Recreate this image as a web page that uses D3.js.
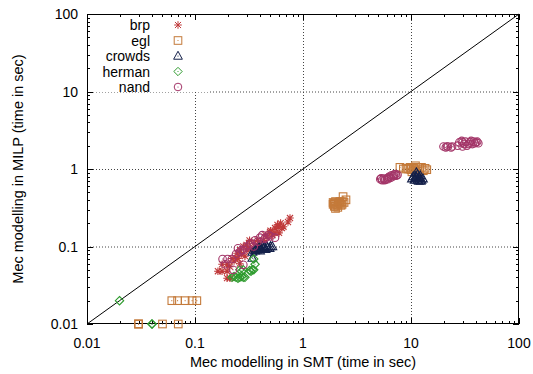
<!DOCTYPE html>
<html>
<head>
<meta charset="utf-8">
<script src="https://cdn.jsdelivr.net/npm/d3@7"></script>
<style>
  body { margin: 0; background: #fff; }
  text { font-family: "Liberation Sans", Arial, sans-serif; font-size: 14px; fill: #000; }
</style>
</head>
<body>
<svg id="chart" width="533" height="374"></svg>
<script>
let width = 533, height = 374;
let margin = { left: 87, right: 14, top: 14, bottom: 50 };

let seriesNames = ["brp", "egl", "crowds", "herman", "nand"];
let seriesColors = ["#c0393a", "#c47a3a", "#14204a", "#2e9b2e", "#a33568"];
let seriesShapes = ["star", "square", "triangle", "diamond", "circle"];

let tickValues = [0.01, 0.1, 1, 10, 100];
let tickLabels = ["0.01", "0.1", "1", "10", "100"];
let gridValues = [0.1, 1, 10];

// points (SMT time, MILP time)
let brpX = [0.198, 0.211, 0.163, 0.178, 0.198, 0.178, 0.198, 0.22, 0.245, 0.261, 0.245, 0.303, 0.337, 0.28, 0.3, 0.32, 0.4, 0.43, 0.464, 0.495, 0.52, 0.551, 0.587, 0.639, 0.6, 0.55, 0.726, 0.758, 0.26, 0.29,
  0.23, 0.27, 0.31, 0.35, 0.38, 0.45, 0.5, 0.58, 0.62, 0.66, 0.21, 0.25];
let brpY = [0.039, 0.039, 0.048, 0.048, 0.048, 0.059, 0.059, 0.07, 0.082, 0.09, 0.071, 0.09, 0.09, 0.1, 0.105, 0.12, 0.105, 0.12, 0.133, 0.154, 0.14, 0.173, 0.179, 0.173, 0.15, 0.15, 0.207, 0.233, 0.06, 0.075,
  0.065, 0.08, 0.095, 0.11, 0.12, 0.14, 0.16, 0.19, 0.2, 0.18, 0.055, 0.07];

let eglX = [0.03, 0.03, 0.03, 0.05, 0.07, 0.061, 0.069, 0.081, 0.094, 0.104,
  1.9, 2.0, 2.1, 2.2, 2.3, 2.0, 2.2, 2.4, 2.1, 2.35, 1.95, 2.5, 1.95, 2.05, 2.15, 2.25, 2.3, 2.0, 1.9,
  7.9, 8.5, 9.5, 10, 10.5, 11, 11.5, 12, 13, 14, 10.2, 11.5, 9, 10.8, 12.5, 13.5, 9.8];
let eglY = [0.01, 0.01, 0.01, 0.01, 0.01, 0.02, 0.02, 0.02, 0.02, 0.02,
  0.35, 0.33, 0.34, 0.36, 0.35, 0.38, 0.38, 0.37, 0.32, 0.44, 0.36, 0.4, 0.33, 0.35, 0.37, 0.34, 0.38, 0.31, 0.37,
  1.05, 1.0, 1.0, 0.98, 1.02, 1.1, 1.05, 1.0, 0.95, 0.98, 0.92, 0.93, 1.02, 0.97, 1.05, 1.02, 1.05];

let crowdsX = [0.34, 0.36, 0.38, 0.4, 0.42, 0.44, 0.46, 0.5, 0.52, 0.4, 0.45, 0.34, 0.37, 0.39, 0.41, 0.43, 0.47, 0.49, 0.36,
  10.2, 10.8, 11, 11.5, 12, 12.5, 11.8, 11.2, 12.9, 10.5, 11.3, 11.7, 12.2, 11.5, 12.3, 10.9];
let crowdsY = [0.085, 0.088, 0.09, 0.095, 0.1, 0.098, 0.1, 0.1, 0.1, 0.088, 0.092, 0.071, 0.093, 0.097, 0.092, 0.095, 0.097, 0.095, 0.09,
  0.75, 0.72, 0.8, 0.85, 0.78, 0.72, 0.7, 0.9, 0.75, 0.8, 0.78, 0.75, 0.82, 0.72, 0.7, 0.76];

let hermanX = [0.02, 0.04, 0.04, 0.22, 0.24, 0.26, 0.28, 0.27, 0.33, 0.35, 0.36, 0.35, 0.23, 0.25, 0.27, 0.29, 0.26, 0.28, 0.34, 0.32];
let hermanY = [0.02, 0.01, 0.01, 0.04, 0.04, 0.04, 0.04, 0.048, 0.048, 0.05, 0.059, 0.069, 0.041, 0.039, 0.041, 0.04, 0.05, 0.05, 0.05, 0.049];

let nandX = [0.18, 0.2, 0.22, 0.19, 0.225, 0.28, 0.24, 0.26, 0.28, 0.25, 0.3, 0.33, 0.36, 0.4, 0.45, 0.5, 0.55, 0.42, 0.38, 0.35, 0.27, 0.32, 0.44, 0.48,
  5.2, 5.4, 5.6, 5.8, 6.0, 6.3, 6.6, 7.0, 7.3, 7.5, 6.8, 6.2, 5.3, 5.7, 6.1, 6.5, 6.9, 7.2,
  20, 21, 22, 23.5, 27, 28, 29.5, 31, 32, 33, 35, 37, 38, 40, 42, 30, 21.5, 24, 30, 34, 36, 39, 41];
let nandY = [0.069, 0.069, 0.069, 0.059, 0.05, 0.058, 0.08, 0.085, 0.09, 0.095, 0.1, 0.11, 0.12, 0.13, 0.13, 0.135, 0.13, 0.14, 0.115, 0.1, 0.09, 0.105, 0.125, 0.14,
  0.74, 0.72, 0.75, 0.73, 0.76, 0.8, 0.83, 0.85, 0.82, 0.84, 0.8, 0.78, 0.76, 0.72, 0.74, 0.77, 0.82, 0.86,
  1.95, 1.9, 1.95, 1.9, 2.0, 2.2, 2.3, 2.1, 2.25, 2.0, 2.2, 2.1, 2.25, 2.2, 2.15, 1.95, 1.95, 1.95, 2.2, 2.1, 2.3, 2.15, 2.25];

let seriesX = [brpX, eglX, crowdsX, hermanX, nandX];
let seriesY = [brpY, eglY, crowdsY, hermanY, nandY];

let svg = d3.select("#chart");
svg.append("rect").attr("width", width).attr("height", height).attr("fill", "#fff");

let x = d3.scaleLog().domain([0.01, 100]).range([margin.left, width - margin.right]);
let y = d3.scaleLog().domain([0.01, 100]).range([height - margin.bottom, margin.top]);

let x0 = x.range()[0], x1 = x.range()[1];
let y0 = y.range()[0], y1 = y.range()[1];

// grid
let grid = svg.append("g").attr("stroke", "#444").attr("stroke-width", 1).attr("stroke-dasharray", "1,2");
gridValues.forEach(v => {
  grid.append("line").attr("x1", x(v) + 0.5).attr("x2", x(v) + 0.5).attr("y1", y0).attr("y2", y1);
  grid.append("line").attr("x1", x0).attr("x2", x1).attr("y1", y(v) + 0.5).attr("y2", y(v) + 0.5);
});

// key background hides grid
svg.append("rect").attr("x", x0 + 1).attr("y", y1 + 1).attr("width", 120).attr("height", 77).attr("fill", "#fff");

// diagonal
svg.append("line")
  .attr("x1", x(0.01)).attr("y1", y(0.01)).attr("x2", x(100)).attr("y2", y(100))
  .attr("stroke", "#000").attr("stroke-width", 1);

// ticks on all four sides
let minor = [];
for (let e = -2; e < 2; e++) {
  for (let m = 2; m <= 9; m++) minor.push(m * Math.pow(10, e));
}
let ticks = svg.append("g").attr("stroke", "#000").attr("stroke-width", 1);
function tick(v, len) {
  let px = Math.round(x(v)) + 0.5, py = Math.round(y(v)) + 0.5;
  ticks.append("line").attr("x1", px).attr("x2", px).attr("y1", y0).attr("y2", y0 - len);
  ticks.append("line").attr("x1", px).attr("x2", px).attr("y1", y1).attr("y2", y1 + len);
  ticks.append("line").attr("x1", x0).attr("x2", x0 + len).attr("y1", py).attr("y2", py);
  ticks.append("line").attr("x1", x1).attr("x2", x1 - len).attr("y1", py).attr("y2", py);
}
tickValues.forEach(v => tick(v, 6));
minor.forEach(v => tick(v, 3));

// frame
svg.append("rect").attr("x", x0 + 0.5).attr("y", y1 + 0.5)
  .attr("width", x1 - x0 - 1).attr("height", y0 - y1 - 1)
  .attr("fill", "none").attr("stroke", "#000").attr("stroke-width", 1);

// tick labels
tickValues.forEach((v, i) => {
  svg.append("text").attr("x", x(v)).attr("y", y0 + 24).attr("text-anchor", "middle").text(tickLabels[i]);
  svg.append("text").attr("x", x0 - 9).attr("y", y(v) + 5).attr("text-anchor", "end").text(tickLabels[i]);
});

// axis titles
svg.append("text").attr("x", (x0 + x1) / 2).attr("y", height - 7).attr("text-anchor", "middle")
  .style("font-size", "14.5px")
  .text("Mec modelling in SMT (time in sec)");
svg.append("text").attr("transform", "translate(23," + ((y0 + y1) / 2) + ") rotate(-90)")
  .attr("text-anchor", "middle").style("font-size", "14.5px")
  .text("Mec modelling in MILP (time in sec)");

// marker shapes
function marker(g, shape, color) {
  let s = 3.8;
  if (shape === "star") {
    g.append("path").attr("d", `M${-s},0H${s}M0,${-s}V${s}M${-s * 0.8},${-s * 0.8}L${s * 0.8},${s * 0.8}M${-s * 0.8},${s * 0.8}L${s * 0.8},${-s * 0.8}`)
      .attr("stroke", color).attr("fill", "none");
  } else if (shape === "square") {
    g.append("rect").attr("x", -s).attr("y", -s).attr("width", 2 * s).attr("height", 2 * s)
      .attr("stroke", color).attr("fill", "none");
    g.append("circle").attr("r", 0.6).attr("fill", color);
  } else if (shape === "triangle") {
    g.append("path").attr("d", `M0,${-s * 1.25}L${s * 1.15},${s * 0.85}L${-s * 1.15},${s * 0.85}Z`)
      .attr("stroke", color).attr("fill", "none");
    g.append("circle").attr("r", 0.6).attr("fill", color);
  } else if (shape === "diamond") {
    g.append("path").attr("d", `M0,${-s * 1.1}L${s * 1.1},0L0,${s * 1.1}L${-s * 1.1},0Z`)
      .attr("stroke", color).attr("fill", "none");
    g.append("circle").attr("r", 0.6).attr("fill", color);
  } else {
    g.append("circle").attr("r", s).attr("stroke", color).attr("fill", "none");
    g.append("circle").attr("r", 0.6).attr("fill", color);
  }
}

let plot = svg.append("g");
seriesNames.forEach((name, i) => {
  let pts = seriesX[i].map((v, j) => [v, seriesY[i][j]]);
  pts.forEach(p => {
    let g = plot.append("g").attr("transform", `translate(${x(p[0])},${y(p[1])})`).attr("stroke-width", 1.1);
    marker(g, seriesShapes[i], seriesColors[i]);
  });
});

// key
let key = svg.append("g");
seriesNames.forEach((name, i) => {
  let ky = y1 + 11 + i * 15.5;
  key.append("text").attr("x", 150).attr("y", ky + 5).attr("text-anchor", "end").text(name);
  let g = key.append("g").attr("transform", `translate(178,${ky})`).attr("stroke-width", 1);
  marker(g, seriesShapes[i], seriesColors[i]);
});
</script>
</body>
</html>
